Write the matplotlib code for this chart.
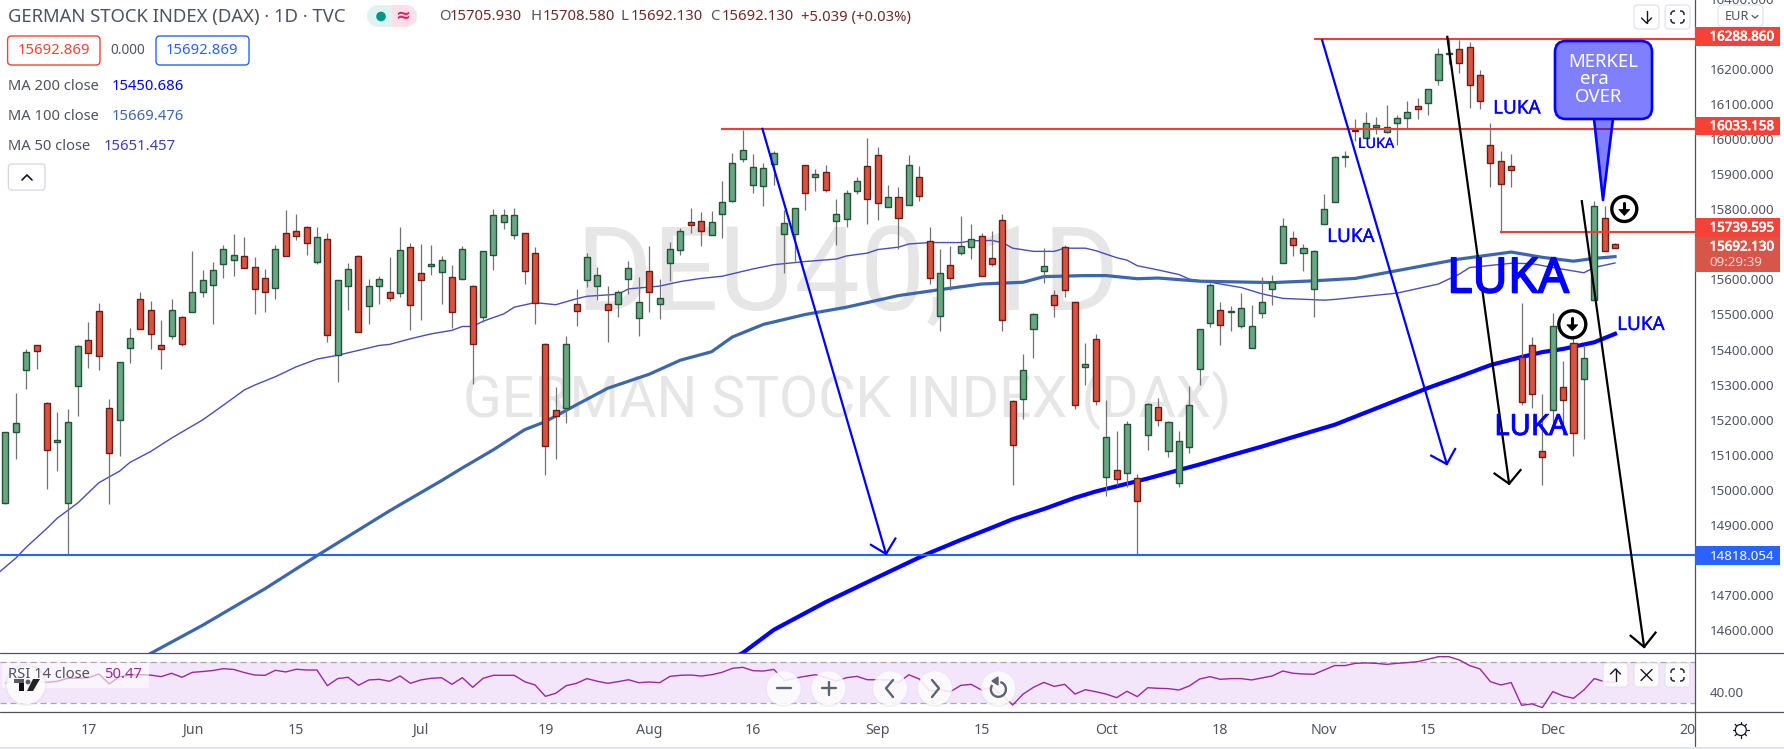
import matplotlib
matplotlib.use("Agg")
import matplotlib.pyplot as plt
import matplotlib.patheffects as pe
from matplotlib.patches import FancyBboxPatch, Circle, Rectangle, Polygon, Arc

plt.rcParams['font.family'] = ['Noto Sans', 'DejaVu Sans']
plt.rcParams['ytick.alignment'] = 'center'

W, H = 1784, 749

# daily candles
opens = [14968,15170,15346,15416,15252,15142,14966,15300,15431,15513,
         15238,15204,15408,15547,15518,15416,15442,15496,15510,15569,
         15589,15649,15660,15671,15640,15609,15581,15736,15742,15753,
         15654,15719,15388,15586,15671,15527,15584,15569,15564,15697,
         15623,15643,15626,15612,15606,15584,15496,15674,15768,15731,
         15737,15680,15419,15231,15238,15533,15601,15584,15535,15535,
         15606,15493,15629,15535,15652,15688,15768,15771,15731,15790,
         15827,15946,15872,15870,15932,15734,15734,15929,15895,15909,
         15771,15776,15856,15927,15958,15810,15839,15816,15895,15714,
         15499,15646,15680,15697,15728,15666,15774,15258,15264,15462,
         15629,15561,15697,15541,15355,15434,15040,15060,15054,15037,
         15162,15241,15114,15023,15128,15349,15479,15516,15510,15471,
         15408,15507,15578,15651,15722,15680,15578,15762,15824,15954,
         16030,16008,16039,16025,16051,16065,16099,16107,16172,16246,
         16260,16266,16187,15986,15940,15926,15382,15416,15116,15232,
         15297,15422,15320,15544,15779,15705.93]
highs = [15170,15281,15405,15416,15256,15225,15235,15416,15482,15536,
         15264,15368,15466,15567,15542,15488,15548,15500,15684,15630,
         15655,15703,15732,15726,15667,15635,15703,15803,15791,15756,
         15752,15735,15603,15652,15675,15606,15613,15667,15752,15708,
         15706,15703,15671,15646,15700,15589,15686,15804,15804,15807,
         15737,15697,15422,15298,15442,15578,15680,15640,15584,15575,
         15657,15612,15700,15606,15711,15751,15808,15796,15799,15885,
         15963,16030,15960,15935,15969,15802,15807,15929,15918,15929,
         15833,15858,15895,16007,15981,15873,15867,15958,15928,15754,
         15692,15700,15785,15762,15737,15743,15791,15261,15391,15507,
         15694,15573,15703,15541,15423,15449,15261,15173,15202,15049,
         15252,15267,15202,15173,15301,15462,15595,15541,15527,15564,
         15530,15612,15617,15779,15742,15705,15688,15847,15957,15971,
         16062,16082,16068,16102,16073,16113,16121,16147,16263,16290,
         16285,16280,16201,16051,15971,15960,15538,15439,15278,15507,
         15371,15445,15416,15827,15813,15708.58]
lows = [14965,15093,15291,15348,15008,15059,14819,15214,15353,15345,
        14963,15101,15365,15462,15407,15350,15435,15415,15510,15553,
        15478,15608,15614,15637,15506,15512,15549,15671,15716,15673,
        15648,15427,15311,15517,15453,15478,15534,15543,15554,15461,
        15489,15617,15534,15467,15606,15305,15483,15631,15747,15719,
        15591,15478,15047,15093,15195,15472,15583,15546,15425,15498,
        15563,15442,15511,15492,15600,15673,15736,15699,15731,15723,
        15824,15939,15851,15812,15872,15622,15656,15801,15855,15852,
        15702,15753,15847,15761,15773,15810,15691,15816,15827,15591,
        15456,15575,15675,15663,15615,15641,15456,15019,15207,15379,
        15595,15498,15553,15236,15304,15247,14986,15018,15012,14818,
        15117,15186,15097,15014,15111,15304,15468,15417,15458,15465,
        15408,15493,15531,15651,15671,15629,15496,15762,15824,15923,
        15997,16008,16017,16022,15986,16034,16062,16072,16158,16219,
        16192,16093,16089,15867,15737,15867,15246,15237,15017,15185,
        15160,15100,15150,15544,15685,15692.13]
closes = [15170,15196,15397,15399,15119,15147,15198,15414,15394,15385,
          15111,15368,15436,15462,15448,15405,15518,15419,15567,15601,
          15632,15691,15674,15637,15578,15569,15691,15671,15728,15708,
          15725,15445,15601,15634,15453,15586,15606,15552,15688,15530,
          15601,15649,15660,15510,15691,15419,15686,15787,15787,15787,
          15629,15538,15130,15214,15419,15513,15669,15618,15518,15569,
          15637,15541,15567,15552,15691,15742,15759,15742,15768,15824,
          15935,15974,15923,15921,15963,15765,15807,15850,15904,15858,
          15790,15850,15884,15833,15822,15839,15779,15929,15842,15609,
          15621,15609,15700,15720,15615,15649,15488,15131,15346,15505,
          15643,15530,15573,15247,15363,15258,15156,15035,15193,14972,
          15250,15204,15199,15145,15247,15462,15587,15473,15513,15522,
          15471,15541,15598,15756,15702,15694,15685,15804,15952,15957,
          16027,16051,16045,16039,16065,16082,16090,16147,16246,16249,
          16221,16158,16113,15935,15875,15915,15255,15278,15099,15470,
          15261,15167,15380,15813,15685,15692.13]

# moving averages, read at the bends
ma50_bars = [-1,1,2,4,5,7,9,11,12,14,16,19,21,23,24,26,28,30,32,34,36,37,39,41,43,44,45,46,48,49,
             51,53,55,56,59,60,63,65,67,69,72,74,77,80,81,83,84,86,87,89,92,93,95,96,97,99,101,102,
             104,105,107,108,109,111,113,114,116,119,121,123,127,128,130,134,138,140,141,145,147,
             149,152,153,155]
ma50_vals = [14760,14810,14841,14895,14924,14968,15025,15058,15083,15114,15152,15204,15246,15289,15303,
             15327,15355,15377,15388,15402,15416,15419,15435,15449,15459,15470,15470,15485,15506,15525,
             15538,15532,15549,15556,15562,15577,15585,15598,15607,15613,15634,15646,15655,15662,15671,
             15679,15689,15696,15705,15709,15709,15714,15715,15709,15693,15684,15684,15693,15693,15686,
             15666,15659,15643,15631,15618,15605,15596,15581,15563,15550,15545,15547,15553,15565,15591,
             15619,15638,15650,15649,15638,15623,15638,15651]
ma100_bars = [13,14,19,25,30,37,42,44,47,50,52,55,58,62,65,68,70,73,77,81,86,90,94,98,100,104,106,109,
              111,115,122,126,130,134,140,143,145,148,151,153,155]
ma100_vals = [14523,14539,14619,14723,14817,14945,15031,15067,15119,15176,15199,15247,15294,15334,15374,
              15398,15440,15476,15504,15525,15558,15575,15591,15596,15612,15615,15615,15606,15608,15599,
              15595,15600,15607,15629,15662,15674,15682,15667,15656,15664,15669]
ma200_bars = [70,71,74,79,85,88,89,92,95,97,100,103,105,108,110,112,115,118,121,124,128,131,134,137,140,
              143,146,148,150,153,155]
ma200_vals = [14525,14540,14606,14685,14770,14812,14825,14862,14897,14921,14950,14982,15000,15022,15037,
              15053,15077,15103,15128,15155,15190,15225,15260,15295,15327,15360,15383,15397,15406,15425,
              15449]

rsi = [49.5,54.4,53,51,50.5,51.5,54.4,54.5,55,58.6,
       48.9,56,57.5,58,57.5,56,59.3,55.4,60.2,61,
       62,63.8,63,60,57.6,57.3,62.2,60.6,63.2,62.5,
       62.5,47.2,54.1,55.4,47.6,52.8,53.4,51.5,56.7,49.5,
       52.8,54.4,55,48.5,55,45.6,54.4,57.3,57.3,57.3,
       51.1,47.9,36.8,39.8,47.2,49.5,54.1,51.5,49.5,51.1,
       53,50.1,50.8,50.1,56.3,57.3,57.6,56.6,57.9,60.2,
       64.1,65.1,61.8,61.5,63.1,52.1,54.4,56.3,57.9,55,
       51.7,55,56.3,53,53,52.8,50.1,57.9,53.7,42,
       43,41.3,47.5,48.5,43,45.6,38.1,28.3,39,45.6,
       50.4,46.5,48.5,39,43.3,41.3,39,35.5,41.7,36.5,
       45.2,44.6,44.3,43,46.9,53.7,56,53.4,54.1,54.1,
       52.8,54.7,56.7,61.5,59.3,58.6,58.3,62.5,66.8,66.8,
       69,69.4,69,68,69,69.7,70.6,73,75.5,75.5,
       72.3,66.8,63.5,51.1,47.9,50.2,28,29.4,25.8,41.4,
       37.2,34.9,43,54.1,51.1,50.47]

# axis labels
price_ticks = [14600,14700,14800,14900,15000,15100,15200,15300,15400,15500,15600,15700,15800,15900,
               16000,16100,16200,16300,16400]
date_bars = [8,18,28,40,52,62,72,84,94,106,117,127,137,149,162]
date_labels = ['17','Jun','15','Jul','19','Aug','16','Sep','15','Oct','18','Nov','15','Dec','20']

# the hand drawn levels and arrows on the chart (bar, price)
levels = [(16288.86, 126.0, '#f23d33'), (16033.158, 68.9, '#f23d33'), (15739.595, 143.9, '#f23d33')]
support = 14818.054
blue_arrow_1 = ([72.9, 84.8], [16033, 14822])
blue_head_1 = ([83.35, 84.8, 85.7], [14848, 14822, 14866])
blue_arrow_2 = ([126.8, 138.8], [16285, 15078])
blue_head_2 = ([137.3, 138.8, 139.6], [15102, 15078, 15121])
black_arrow_1 = ([138.85, 144.8], [16295, 15022])
black_head_1 = ([143.4, 144.8, 145.9], [15051, 15022, 15061])
black_arrow_2 = ([151.8, 157.8], [15827, 14557])
black_head_2 = ([156.5, 157.8, 158.9], [14589, 14557, 14598])

GREY = '#50535e'
BLUE = '#0000ff'
RED_TAG = '#f44336'

fig = plt.figure(figsize=(W / 100, H / 100), dpi=100, facecolor='white')
PANE_R = 1695
MAIN_B = 653.3
RSI_B = 712
ax = fig.add_axes([0, (H - MAIN_B) / H, PANE_R / W, MAIN_B / H])
ax_rsi = fig.add_axes([0, (H - RSI_B) / H, PANE_R / W, (RSI_B - MAIN_B) / H])

# watermark
ax.text(848 / PANE_R, 1 - 310 / MAIN_B, 'DEU40, 1D', transform=ax.transAxes, fontsize=84, color='#e6e6e6',
        ha='center', va='baseline', zorder=0, family='Roboto')
ax.text(847 / PANE_R, 1 - 417 / MAIN_B, 'GERMAN STOCK INDEX (DAX)', transform=ax.transAxes, fontsize=41,
        color='#e6e6e6', ha='center', va='baseline', zorder=0, family='Roboto')

# moving averages sit under the candles
ax.plot(ma50_bars, ma50_vals, color='#4a4dbb', lw=1.0, zorder=2, solid_joinstyle='round')
ax.plot(ma100_bars, ma100_vals, color='#3c66b0', lw=2.3, zorder=2, solid_joinstyle='round')
ax.plot(ma200_bars, ma200_vals, color=BLUE, lw=3.0, zorder=2, solid_joinstyle='round')

# candles
for i in range(len(opens)):
    up = closes[i] >= opens[i]
    ax.vlines(i, lows[i], highs[i], color='#737375', lw=0.9, zorder=3)
    ax.bar(i, abs(closes[i] - opens[i]), bottom=min(opens[i], closes[i]), width=0.58,
           color='#6ba583' if up else '#d75442', edgecolor='#225437' if up else '#6f1c14',
           linewidth=1.0, zorder=4)

# drawn levels and arrows
for price, start, col in levels:
    ax.plot([start, 162.7], [price, price], color=col, lw=1.5, zorder=5, solid_capstyle='butt')
ax.axhline(support, color='#2962ff', lw=1.5, zorder=5)
ax.plot(*blue_arrow_1, color=BLUE, lw=1.6, zorder=6)
ax.plot(*blue_head_1, color=BLUE, lw=1.6, zorder=6)
ax.plot(*blue_arrow_2, color=BLUE, lw=1.6, zorder=6)
ax.plot(*blue_head_2, color=BLUE, lw=1.6, zorder=6)
ax.plot(*black_arrow_1, color='black', lw=1.6, zorder=6)
ax.plot(*black_head_1, color='black', lw=1.6, zorder=6)
ax.plot(*black_arrow_2, color='black', lw=1.6, zorder=6)
ax.plot(*black_head_2, color='black', lw=1.6, zorder=6)

ax.set_xlim(-0.52, 162.7)
ax.set_ylim(14539, 16389)
ax.yaxis.tick_right()
ax.set_yticks(price_ticks)
ax.set_yticklabels(['%.3f' % p for p in price_ticks])
ax.tick_params(axis='y', length=0, pad=10.4, labelsize=9.6, labelcolor=GREY)
ax.tick_params(axis='x', bottom=False, labelbottom=False)
for s in ax.spines.values():
    s.set_visible(False)

# RSI pane
ax_rsi.axhspan(30, 70, color='#f3e6fb', lw=0, zorder=1)
ax_rsi.axhline(70, color='#a9a6ae', lw=0.9, ls=(0, (5, 3)), zorder=2)
ax_rsi.axhline(30, color='#a9a6ae', lw=0.9, ls=(0, (5, 3)), zorder=2)
ax_rsi.plot(range(len(rsi)), rsi, color='#9c27a0', lw=1.0, zorder=3)
ax_rsi.set_xlim(-0.52, 162.7)
ax_rsi.set_ylim(21.5, 78.8)
ax_rsi.yaxis.tick_right()
ax_rsi.set_yticks([40])
ax_rsi.set_yticklabels(['40.00'])
ax_rsi.tick_params(axis='y', length=0, pad=10.4, labelsize=9.6, labelcolor=GREY)
ax_rsi.set_xticks(date_bars)
ax_rsi.set_xticklabels(date_labels)
ax_rsi.tick_params(axis='x', length=0, pad=8, labelsize=10.2, labelcolor=GREY)
for t, lab in zip(ax_rsi.get_xticklabels(), date_labels):
    if not lab.isdigit():
        t.set_fontweight('bold')
for s in ax_rsi.spines.values():
    s.set_visible(False)

# everything else lives on a pixel overlay
ui = fig.add_axes([0, 0, 1, 1])
ui.set_xlim(0, W)
ui.set_ylim(H, 0)
ui.axis('off')
ui.patch.set_visible(False)


def box(x0, y0, x1, y1, r=3, fc='white', ec='none', lw=1.0, alpha=None, z=5):
    p = FancyBboxPatch((x0, y0), x1 - x0, y1 - y0, boxstyle='round,pad=0,rounding_size=%s' % r,
                       fc=fc, ec=ec, lw=lw, alpha=alpha, zorder=z)
    ui.add_patch(p)


def seg(xs, ys, col='#131722', lw=1.2, z=7):
    ui.plot(xs, ys, color=col, lw=lw, zorder=z, solid_capstyle='round')


# pane frame
seg([0, W], [MAIN_B, MAIN_B], GREY, 0.9, 3)
seg([0, W], [RSI_B, RSI_B], GREY, 0.9, 3)
seg([PANE_R, PANE_R], [0, 746], GREY, 0.9, 3)
seg([0, W], [747.5, 747.5], '#e0e3eb', 1.3, 3)

# header
ui.text(8, 17, 'GERMAN STOCK INDEX (DAX) · 1D · TVC', fontsize=13.3, color=GREY, va='center')
ui.add_patch(Rectangle((378, 5), 14, 22, fc='#dff3f0', ec='none', zorder=4))
ui.add_patch(Rectangle((392, 5), 14, 22, fc='#fde0ea', ec='none', zorder=4))
ui.add_patch(Circle((378, 16), 11, fc='#dff3f0', ec='none', zorder=4))
ui.add_patch(Circle((406, 16), 11, fc='#fde0ea', ec='none', zorder=4))
ui.add_patch(Circle((381, 16.5), 4.8, fc='#009688', ec='none', zorder=5))
ui.text(403, 15.5, '≈', fontsize=13, color='#e91e63', ha='center', va='center', fontweight='bold', zorder=5)
for lx, let, vx, val in [(439, 'O', 450, '15705.930'), (530, 'H', 543, '15708.580'),
                         (620, 'L', 631, '15692.130'), (710, 'C', 722, '15692.130')]:
    ui.text(lx, 17, let, fontsize=10.7, color=GREY, va='center')
    ui.text(vx, 17, val, fontsize=10.7, color='#6e2a2a', va='center')
ui.text(801, 17, '+5.039 (+0.03%)', fontsize=10.7, color='#6e2a2a', va='center')

box(7.6, 36, 100, 65, r=4, ec='#f44336', lw=1.0)
ui.text(54, 51, '15692.869', fontsize=10.7, color='#f44336', ha='center', va='center', zorder=6)
ui.text(128, 50.5, '0.000', fontsize=9.8, color=GREY, ha='center', va='center', zorder=6)
box(156, 36, 249, 65, r=4, ec='#2962ff', lw=1.0)
ui.text(202, 51, '15692.869', fontsize=10.7, color='#2962ff', ha='center', va='center', zorder=6)
for y, name, vx, val, col in [(86.7, 'MA 200 close', 112, '15450.686', BLUE),
                              (116.7, 'MA 100 close', 112, '15669.476', '#3c66b0'),
                              (146.7, 'MA 50 close', 104, '15651.457', '#3f3fb4')]:
    ui.text(8, y, name, fontsize=10.6, color=GREY, va='center')
    ui.text(vx, y, val, fontsize=10.7, color=col, va='center')
box(8.4, 164, 45, 190, r=3, ec='#d6d8e0', lw=0.9)
seg([22, 27, 32], [180, 175, 180], '#131722', 1.2)

# top right buttons
box(1634, 5, 1659, 29, r=4, ec='#e0e3eb', lw=0.9)
seg([1646.5, 1646.5], [11, 23], '#131722', 1.0)
seg([1641.5, 1646.5, 1651.5], [18, 23, 18], '#131722', 1.0)
box(1665, 5, 1690, 29, r=4, ec='#e0e3eb', lw=0.9)
box(1671, 11, 1684, 23, r=3, ec='#131722', lw=1.0)
ui.add_patch(Rectangle((1675, 9), 5, 16, fc='white', ec='none', zorder=6))
ui.add_patch(Rectangle((1669, 15), 17, 4, fc='white', ec='none', zorder=6))
box(1718, 5, 1763, 27, r=5, ec='#e0e3eb', lw=0.9)
ui.text(1725, 16.5, 'EUR', fontsize=9.2, color=GREY, va='center', zorder=6)
seg([1752, 1755, 1758], [15.5, 18, 15.5], GREY, 0.9)

# price tags
fat = [pe.withStroke(linewidth=0.5, foreground='white')]
for y0, y1, lab in [(27, 46, '16288.860'), (117, 135, '16033.158'), (218, 237, '15739.595')]:
    ui.add_patch(Rectangle((PANE_R, y0), 85, y1 - y0, fc=RED_TAG, ec='none', zorder=5))
    ui.text(1709.5, (y0 + y1) / 2 + 0.5, lab, fontsize=9.6, color='white', va='center', zorder=6, path_effects=fat)
ui.add_patch(Rectangle((PANE_R, 237), 85, 35, fc='#d6574a', ec='none', zorder=5))
ui.text(1709.5, 247, '15692.130', fontsize=9.6, color='white', va='center', zorder=6, path_effects=fat)
ui.text(1709.5, 263, '09:29:39', fontsize=9.6, color='#f7d8d3', va='center', zorder=6)
ui.add_patch(Rectangle((PANE_R, 546), 85, 19, fc='#2962ff', ec='none', zorder=5))
ui.text(1709.5, 556, '14818.054', fontsize=9.6, color='white', va='center', zorder=6)

# LUKA notes
for x, y, size, stroke in [(1508, 279.5, 35, 1.2), (1531, 427.5, 21, 0.6), (1517, 108.5, 13.6, 0.2),
                           (1376, 144.5, 10.4, 0.1), (1351, 237, 13.6, 0.2), (1641, 325, 13.6, 0.2)]:
    ui.text(x, y, 'LUKA', fontsize=size, color=BLUE, ha='center', va='center', zorder=6,
            path_effects=[pe.withStroke(linewidth=stroke, foreground=BLUE)])

# MERKEL callout
ui.add_patch(Polygon([(1594, 117), (1613, 117), (1603, 200)], closed=True, fc='#0000ff', alpha=0.5, ec='none', zorder=6))
seg([1594, 1603, 1613], [119, 200, 119], BLUE, 1.9, 7)
box(1555, 41, 1652, 119, r=11, fc='#8080ff', ec=BLUE, lw=1.9, z=7)
ui.text(1603, 62, 'MERKEL', fontsize=13.4, color='white', ha='center', va='center', zorder=8)
ui.text(1594, 79, 'era', fontsize=13.4, color='white', ha='center', va='center', zorder=8)
ui.text(1599, 97, 'OVER', fontsize=13.4, color='white', ha='center', va='center', zorder=8)

# sell signals
for cx, cy, r in [(1624.3, 209, 12.5), (1572.3, 324.3, 13.5)]:
    ui.add_patch(Circle((cx, cy), r, fc='white', ec='black', lw=2.4, zorder=8))
    seg([cx, cx], [cy - 6, cy + 3], 'black', 2.2, 9)
    ui.add_patch(Polygon([(cx - 5.5, cy + 0.5), (cx + 5.5, cy + 0.5), (cx, cy + 6.5)], closed=True,
                         fc='black', ec='black', lw=0.5, zorder=9))

# RSI legend and logo
box(2, 663, 149, 688, r=2, fc='white', alpha=0.6, z=5)
ui.add_patch(Circle((26, 685), 21, fc='#e6e3ea', ec='none', alpha=0.5, zorder=6))
ui.add_patch(Circle((26, 685), 19, fc='white', ec='none', alpha=0.8, zorder=6))
ui.add_patch(Rectangle((14, 679), 10, 4, fc='#5a5b60', ec='none', zorder=7))
ui.add_patch(Rectangle((19, 683), 5, 8, fc='#111111', ec='none', zorder=7))
ui.add_patch(Circle((28, 682), 2.4, fc='#5a5b60', ec='none', zorder=7))
ui.add_patch(Polygon([(33, 679), (40, 679), (33, 691), (27, 691)], closed=True, fc='#222222', ec='none', zorder=7))
ui.text(8.4, 675, 'RSI 14 close', fontsize=10.6, color=GREY, va='center', zorder=8)
ui.text(104, 675, '50.47', fontsize=10.7, color='#9c27a0', va='center', zorder=8)

# pan and zoom buttons
for cx in [783.7, 828.5, 890, 935, 998.4]:
    ui.add_patch(Circle((cx, 689), 18, fc='#dcdce4', ec='none', alpha=0.35, zorder=6))
    ui.add_patch(Circle((cx, 688.3), 17, fc='white', ec='none', alpha=0.82, zorder=6))
seg([776.5, 790.5], [688.3, 688.3], '#5f636e', 1.7)
seg([821.5, 835.5], [688.3, 688.3], '#5f636e', 1.7)
seg([828.5, 828.5], [681.5, 695], '#5f636e', 1.7)
seg([893, 886, 893], [680, 688.3, 697], '#5f636e', 1.7)
seg([932, 939, 932], [680, 688.3, 697], '#5f636e', 1.7)
ui.add_patch(Arc((998.4, 689.3), 15, 15, theta1=-75, theta2=215, color='#5f636e', lw=1.7, zorder=7))
ui.add_patch(Polygon([(998, 677), (998, 685), (992, 681)], closed=True, fc='#5f636e', ec='#5f636e', zorder=7))

# RSI pane buttons
for x0 in [1603, 1634, 1665]:
    box(x0, 663, x0 + 25, 687, r=4, fc='white', ec='#e0e3eb', lw=0.9, alpha=0.85, z=6)
seg([1615.5, 1615.5], [669, 681], '#131722', 1.0)
seg([1610.5, 1615.5, 1620.5], [674, 669, 674], '#131722', 1.0)
seg([1641, 1652], [669.5, 680.5], '#131722', 1.0)
seg([1641, 1652], [680.5, 669.5], '#131722', 1.0)
box(1671, 669, 1684, 681, r=3, fc='none', ec='#131722', lw=1.0, z=7)
ui.add_patch(Rectangle((1675, 667), 5, 16, fc='white', ec='none', zorder=7))
ui.add_patch(Rectangle((1669, 673), 17, 4, fc='white', ec='none', zorder=7))

# settings sun
ui.add_patch(Circle((1740.8, 730), 5.5, fc='white', ec='#131722', lw=0.9, zorder=7))
for dx, dy in [(0, -8), (0, 8), (-8, 0), (8, 0), (-5.7, -5.7), (5.7, -5.7), (-5.7, 5.7), (5.7, 5.7)]:
    seg([1740.8 + dx * 0.75, 1740.8 + dx], [730 + dy * 0.75, 730 + dy], '#131722', 0.9)

fig.savefig('out.png', dpi=100, facecolor='white')
